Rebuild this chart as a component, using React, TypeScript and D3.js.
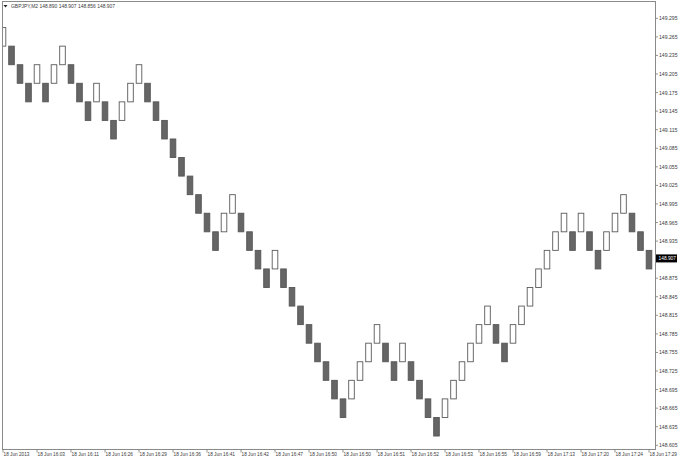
import React from "react";
import * as d3 from "d3";

const symbolHeader = "GBPJPY,M2  148.890 148.907 148.856 148.907";
const currentPrice = 148.907;

const brickOpen = [
  149.250, 149.250, 149.220, 149.190, 149.190, 149.190, 149.190, 149.220, 149.220, 149.190,
  149.160, 149.160, 149.160, 149.130, 149.130, 149.160, 149.190, 149.190, 149.160, 149.130,
  149.100, 149.070, 149.040, 149.010, 148.980, 148.950, 148.950, 148.980, 148.980, 148.950,
  148.920, 148.890, 148.890, 148.890, 148.860, 148.830, 148.800, 148.770, 148.740, 148.710,
  148.680, 148.680, 148.710, 148.740, 148.770, 148.770, 148.740, 148.740, 148.740, 148.710,
  148.680, 148.650, 148.650, 148.680, 148.710, 148.740, 148.770, 148.800, 148.800, 148.770,
  148.770, 148.800, 148.830, 148.860, 148.890, 148.920, 148.950, 148.950, 148.950, 148.950,
  148.920, 148.920, 148.950, 148.980, 148.980, 148.950, 148.920,
];

const brickClose = [
  149.280, 149.220, 149.190, 149.160, 149.220, 149.160, 149.220, 149.250, 149.190, 149.160,
  149.130, 149.190, 149.130, 149.100, 149.160, 149.190, 149.220, 149.160, 149.130, 149.100,
  149.070, 149.040, 149.010, 148.980, 148.950, 148.920, 148.980, 149.010, 148.950, 148.920,
  148.890, 148.860, 148.920, 148.860, 148.830, 148.800, 148.770, 148.740, 148.710, 148.680,
  148.650, 148.710, 148.740, 148.770, 148.800, 148.740, 148.710, 148.770, 148.710, 148.680,
  148.650, 148.620, 148.680, 148.710, 148.740, 148.770, 148.800, 148.830, 148.770, 148.740,
  148.800, 148.830, 148.860, 148.890, 148.920, 148.950, 148.980, 148.920, 148.980, 148.920,
  148.890, 148.950, 148.980, 149.010, 148.950, 148.920, 148.890,
];

const priceTicks = [
  "149.295", "149.265", "149.235", "149.205", "149.175", "149.145", "149.115", "149.085",
  "149.055", "149.025", "148.995", "148.965", "148.935", "148.875", "148.845", "148.815",
  "148.785", "148.755", "148.725", "148.695", "148.665", "148.635", "148.605",
];

const timeLabels = [
  "18 Jun 2013", "18 Jun 16:03", "18 Jun 16:11", "18 Jun 16:26", "18 Jun 16:29",
  "18 Jun 16:36", "18 Jun 16:41", "18 Jun 16:42", "18 Jun 16:47", "18 Jun 16:50",
  "18 Jun 16:50", "18 Jun 16:51", "18 Jun 16:52", "18 Jun 16:53", "18 Jun 16:55",
  "18 Jun 16:59", "18 Jun 17:13", "18 Jun 17:20", "18 Jun 17:24", "18 Jun 17:29",
];

const W = 680;
const H = 460;
const plotL = 2.5;
const plotR = 655.5;
const plotT = 1.5;
const plotB = 449.5;

export default function App() {
  const x = d3.scaleLinear().domain([0, 76]).range([3, 649]);
  const y = d3.scaleLinear().domain([148.605, 149.295]).range([445.3, 18.3]);
  const bw = 5.6;
  const font = "'Liberation Sans', Arial, sans-serif";
  const fs = 5.4;
  const textColor = "#3a3a3a";

  return (
    <svg
      width={W}
      height={H}
      style={{ position: "absolute", left: 0, top: 0, background: "#fff" }}
      fontFamily={font}
    >
      <defs>
        <clipPath id="plotclip">
          <rect x={plotL} y={plotT} width={plotR - plotL} height={plotB - plotT} />
        </clipPath>
      </defs>
      <rect x={0} y={0} width={W} height={H} fill="#fff" />
      <g clipPath="url(#plotclip)">
        {brickOpen.map((o, i) => {
          const c = brickClose[i];
          const up = c > o;
          const top = y(Math.max(o, c));
          const bot = y(Math.min(o, c));
          return (
            <rect
              key={i}
              x={x(i) - bw / 2}
              y={top}
              width={bw}
              height={bot - top}
              fill={up ? "#fff" : "#666"}
              stroke={up ? "#5a5a5a" : "#555"}
              strokeWidth={0.9}
            />
          );
        })}
      </g>
      <rect
        x={plotL}
        y={plotT}
        width={plotR - plotL}
        height={plotB - plotT}
        fill="none"
        stroke="#8a8a8a"
        strokeWidth={1}
      />
      {/* header */}
      <path d="M3.5,5 L7.5,5 L5.5,7.5 Z" fill="#222" />
      <text x={11} y={8} fontSize={fs} fill={textColor} textLength={104} lengthAdjust="spacingAndGlyphs">
        {symbolHeader}
      </text>
      {/* price axis */}
      {priceTicks.map((t, i) => {
        const yy = y(+t);
        return (
          <g key={i}>
            <line x1={plotR} x2={plotR + 2.5} y1={yy} y2={yy} stroke="#777" strokeWidth={0.8} />
            <text x={659} y={yy + 2} fontSize={fs} fill={textColor} textLength={18.5} lengthAdjust="spacingAndGlyphs">
              {t}
            </text>
          </g>
        );
      })}
      <g>
        <rect x={656} y={y(currentPrice) - 4} width={21} height={8} fill="#000" />
        <text x={658.5} y={y(currentPrice) + 2} fontSize={fs} fill="#fff" textLength={17.5} lengthAdjust="spacingAndGlyphs">
          {currentPrice.toFixed(3)}
        </text>
      </g>
      {/* time axis */}
      {timeLabels.map((t, i) => {
        const xx = x(i * 4);
        return (
          <g key={i}>
            <line x1={xx} x2={xx} y1={plotB} y2={plotB + 3} stroke="#777" strokeWidth={0.8} />
            <text x={xx + 0.5} y={455.5} fontSize={fs} fill={textColor} textLength={i === 0 ? 26 : 27.5} lengthAdjust="spacingAndGlyphs">
              {t}
            </text>
          </g>
        );
      })}
    </svg>
  );
}
